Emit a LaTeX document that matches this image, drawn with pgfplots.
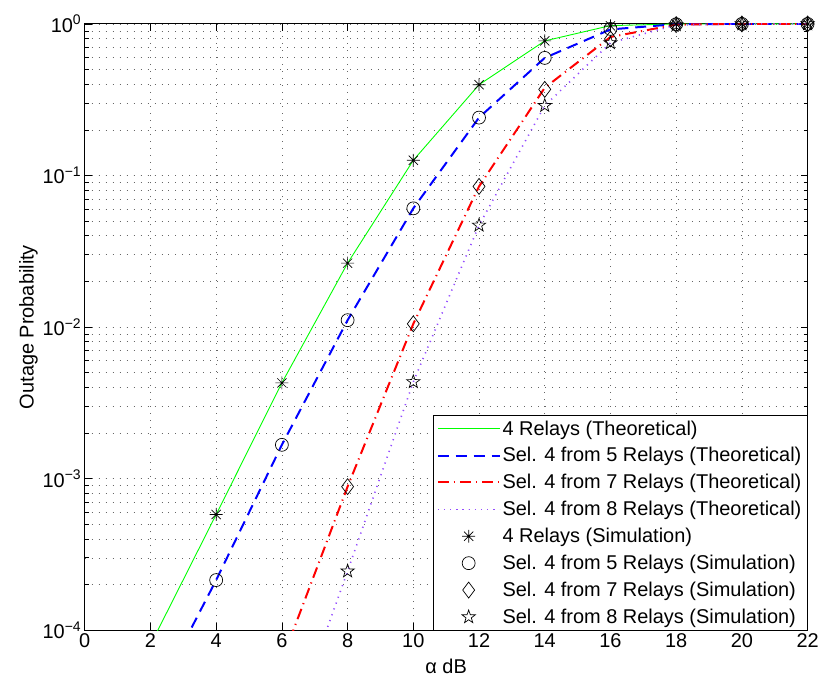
\documentclass[border=0pt]{standalone}
\usepackage{fontspec}
\setmainfont{Liberation Sans}
\usepackage{pgfplots}
\pgfplotsset{compat=1.18}
\usetikzlibrary{calc}

\definecolor{mgreen}{rgb}{0,1,0}
\definecolor{mblue}{rgb}{0,0,1}
\definecolor{mred}{rgb}{1,0,0}
\definecolor{mpurple}{rgb}{0.58,0.3,1}

% matlab style markers
\pgfdeclareplotmark{ast8}{%
  \pgfpathmoveto{\pgfpointpolar{0}{\pgfplotmarksize}}\pgfpathlineto{\pgfpointpolar{180}{\pgfplotmarksize}}%
  \pgfpathmoveto{\pgfpointpolar{90}{\pgfplotmarksize}}\pgfpathlineto{\pgfpointpolar{270}{\pgfplotmarksize}}%
  \pgfpathmoveto{\pgfpointpolar{45}{\pgfplotmarksize}}\pgfpathlineto{\pgfpointpolar{225}{\pgfplotmarksize}}%
  \pgfpathmoveto{\pgfpointpolar{135}{\pgfplotmarksize}}\pgfpathlineto{\pgfpointpolar{315}{\pgfplotmarksize}}%
  \pgfusepathqstroke}
\pgfdeclareplotmark{pentagram}{%
  \pgfpathmoveto{\pgfpointpolar{90}{\pgfplotmarksize}}%
  \pgfpathlineto{\pgfpointpolar{126}{0.4\pgfplotmarksize}}%
  \pgfpathlineto{\pgfpointpolar{162}{\pgfplotmarksize}}%
  \pgfpathlineto{\pgfpointpolar{198}{0.4\pgfplotmarksize}}%
  \pgfpathlineto{\pgfpointpolar{234}{\pgfplotmarksize}}%
  \pgfpathlineto{\pgfpointpolar{270}{0.4\pgfplotmarksize}}%
  \pgfpathlineto{\pgfpointpolar{306}{\pgfplotmarksize}}%
  \pgfpathlineto{\pgfpointpolar{342}{0.4\pgfplotmarksize}}%
  \pgfpathlineto{\pgfpointpolar{18}{\pgfplotmarksize}}%
  \pgfpathlineto{\pgfpointpolar{54}{0.4\pgfplotmarksize}}%
  \pgfpathclose\pgfusepathqstroke}

\begin{document}
\begin{tikzpicture}
\begin{axis}[
  scale only axis, width=725pt, height=608pt,
  ymode=log, xmin=0, xmax=22, ymin=1e-4, ymax=1,
  xtick={0,2,...,22},
  ytick={1e-4,1e-3,1e-2,1e-1,1},
  yticklabels={10\textsuperscript{−4},10\textsuperscript{−3},10\textsuperscript{−2},10\textsuperscript{−1},10\textsuperscript{0}},
  /pgf/number format/assume math mode=true,
  font=\fontsize{20}{23}\selectfont,
  tick label style={font=\fontsize{20}{23}\selectfont},
  xlabel={α dB}, ylabel={Outage Probability},
  xlabel style={yshift=-4pt}, ylabel style={yshift=-2pt},
  grid=both,
  major grid style={black!60, line width=0.6pt, dash pattern=on 1pt off 6pt},
  minor grid style={black!60, line width=0.6pt, dash pattern=on 1pt off 6pt},
  minor x tick num=0,
  tick align=inside, major tick length=7pt, minor tick length=4pt,
  axis line style={line width=0.9pt},
  every tick/.style={black, line width=0.7pt},
  clip mode=individual,
  legend cell align=left,
  legend style={at={(1,0)}, anchor=south east, draw=black,
    font=\fontsize{20}{23}\selectfont, row sep=7pt, inner xsep=4pt, inner ysep=3pt},
  legend image code/.code={\draw[mark repeat=2,mark phase=2] plot coordinates {(0pt,0pt) (31pt,0pt) (62pt,0pt)};},
]
\addplot[mgreen, line width=0.9pt] coordinates {
(2,8.0e-5) (4,5.8e-4) (6,4.28e-3) (8,0.0264) (10,0.126) (12,0.397) (14,0.773) (16,0.975) (18,0.9995) (20,1) (22,1)};
\addlegendentry{4 Relays (Theoretical)}
\addplot[mblue, line width=2pt, dash pattern=on 11pt off 7pt] coordinates {
(2,3.1e-5) (4,2.14e-4) (6,1.67e-3) (8,0.0111) (10,0.0607) (12,0.241) (14,0.597) (16,0.92) (18,0.997) (20,1) (22,1)};
\addlegendentry{Sel. 4 from 5 Relays (Theoretical)}
\addplot[mred, line width=2pt, dash pattern=on 11pt off 5pt on 1.2pt off 5pt] coordinates {
(6,6.3e-5) (8,8.85e-4) (10,0.0105) (12,0.0847) (14,0.379) (16,0.82) (18,0.99) (20,1) (22,1)};
\addlegendentry{Sel. 4 from 7 Relays (Theoretical)}
\addplot[mpurple, line width=1.6pt, dash pattern=on 1.2pt off 5pt] coordinates {
(6,1.5e-5) (8,2.45e-4) (10,4.35e-3) (12,0.0469) (14,0.289) (16,0.75) (18,0.985) (20,1) (22,1)};
\addlegendentry{Sel. 4 from 8 Relays (Theoretical)}
\addplot[only marks, mark=ast8, mark size=6.5pt, mark options={black, line width=0.7pt}] coordinates {
(4,5.8e-4) (6,4.28e-3) (8,0.0264) (10,0.126) (12,0.397) (14,0.773) (16,0.97) (18,1) (20,1) (22,1)};
\addlegendentry{4 Relays (Simulation)}
\addplot[only marks, mark=o, mark size=6.5pt, mark options={black, line width=0.7pt}] coordinates {
(4,2.14e-4) (6,1.67e-3) (8,0.0111) (10,0.0607) (12,0.241) (14,0.597) (16,0.927) (18,0.995) (20,1) (22,1)};
\addlegendentry{Sel. 4 from 5 Relays (Simulation)}
\addplot[only marks, mark=diamond, mark size=8pt, mark options={black, line width=0.7pt}] coordinates {
(8,8.85e-4) (10,0.0105) (12,0.0847) (14,0.37) (16,0.796) (18,0.99) (20,1) (22,1)};
\addlegendentry{Sel. 4 from 7 Relays (Simulation)}
\addplot[only marks, mark=pentagram, mark size=7pt, mark options={black, line width=0.7pt}] coordinates {
(8,2.45e-4) (10,4.35e-3) (12,0.0469) (14,0.289) (16,0.75) (18,0.985) (20,1) (22,1)};
\addlegendentry{Sel. 4 from 8 Relays (Simulation)}
\end{axis}
\path ($(current axis.south west)+(-85pt,-52pt)$) rectangle ($(current axis.north east)+(12pt,24pt)$);
\end{tikzpicture}
\end{document}
